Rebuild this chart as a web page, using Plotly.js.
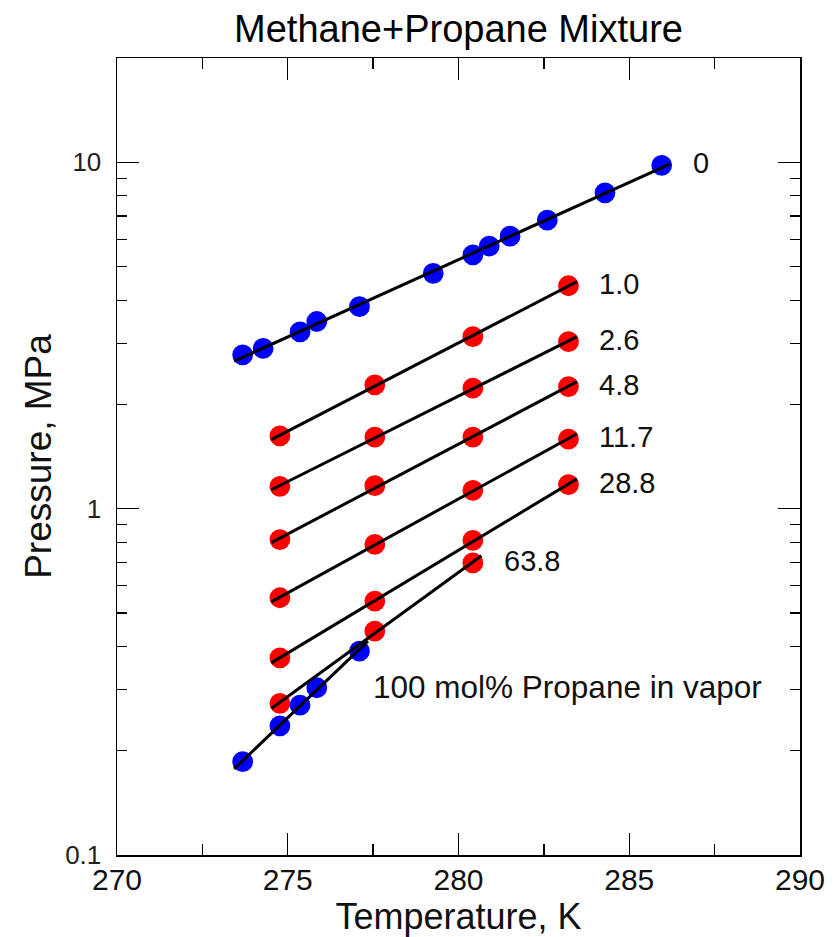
<!DOCTYPE html>
<html>
<head>
<meta charset="utf-8">
<script src="https://cdn.plot.ly/plotly-3.0.1.min.js"></script>
<style>html,body{margin:0;padding:0;background:#fff;}#chart{width:840px;height:937px;}</style>
</head>
<body>
<div id="chart"></div>
<script>
// ---- Data ----
// 0 mol% propane in vapor (pure methane hydrate), blue
const T_0 = [273.68, 274.28, 275.36, 275.85, 277.10, 279.26, 280.42, 280.90, 281.51, 282.60, 284.29, 285.95];
const P_0 = [2.78, 2.90, 3.24, 3.47, 3.83, 4.78, 5.40, 5.73, 6.12, 6.81, 8.16, 9.80];

// mixtures (red), common temperatures
const T_mix = [274.77, 277.55, 280.42, 283.22];
const P_1_0  = [1.623, 2.277, 3.137, 4.40];
const P_2_6  = [1.160, 1.609, 2.228, 3.034];
const P_4_8  = [0.814, 1.165, 1.609, 2.251];
const P_11_7 = [0.553, 0.788, 1.129, 1.588];
const P_28_8 = [0.371, 0.541, 0.810, 1.173];
const T_63_8 = [274.77, 277.55, 280.42];
const P_63_8 = [0.274, 0.443, 0.697];

// 100 mol% propane in vapor, blue
const T_100 = [273.68, 274.77, 275.36, 275.85, 277.10];
const P_100 = [0.186, 0.236, 0.271, 0.304, 0.388];

const seriesLabels = ['0', '1.0', '2.6', '4.8', '11.7', '28.8', '63.8'];
const xTickVals = [270, 275, 280, 285, 290];
const xTickText = ['270', '275', '280', '285', '290'];
const xMinorVals = [272.5, 277.5, 282.5, 287.5];
const yTickVals = [0.1, 1, 10];
const yTickText = ['0.1', '1', '10'];

// ---- Build traces ----
const BLUE = '#0000ff', RED = '#ff0000';
const series = [
  {T: T_0, P: P_0, color: BLUE, label: seriesLabels[0]},
  {T: T_mix, P: P_1_0, color: RED, label: seriesLabels[1]},
  {T: T_mix, P: P_2_6, color: RED, label: seriesLabels[2]},
  {T: T_mix, P: P_4_8, color: RED, label: seriesLabels[3]},
  {T: T_mix, P: P_11_7, color: RED, label: seriesLabels[4]},
  {T: T_mix, P: P_28_8, color: RED, label: seriesLabels[5]},
  {T: T_63_8, P: P_63_8, color: RED, label: seriesLabels[6]},
  {T: T_100, P: P_100, color: BLUE, label: null}
];

function fitLine(T, P, ext) {
  const n = T.length;
  const ly = P.map(v => Math.log10(v));
  const mx = T.reduce((a, b) => a + b, 0) / n;
  const my = ly.reduce((a, b) => a + b, 0) / n;
  let sxy = 0, sxx = 0;
  for (let i = 0; i < n; i++) { sxy += (T[i] - mx) * (ly[i] - my); sxx += (T[i] - mx) * (T[i] - mx); }
  const b = sxy / sxx, a = my - b * mx;
  const x0 = Math.min(...T) - ext, x1 = Math.max(...T) + ext;
  return {x: [x0, x1], y: [Math.pow(10, a + b * x0), Math.pow(10, a + b * x1)]};
}

const traces = [];
series.forEach(s => {
  traces.push({
    type: 'scatter', mode: 'markers', x: s.T, y: s.P, showlegend: false, hoverinfo: 'skip',
    marker: {color: s.color, size: 19, line: {color: s.color, width: 1.8}}
  });
});
series.forEach(s => {
  const f = fitLine(s.T, s.P, 0.25);
  traces.push({
    type: 'scatter', mode: 'lines', x: f.x, y: f.y, showlegend: false, hoverinfo: 'skip',
    line: {color: '#000', width: 3}
  });
});
// empty traces so the tick-overlay axes are drawn
traces.push({type: 'scatter', mode: 'markers', x: [], y: [], xaxis: 'x2', yaxis: 'y', showlegend: false, hoverinfo: 'skip'});
traces.push({type: 'scatter', mode: 'markers', x: [], y: [], xaxis: 'x3', yaxis: 'y', showlegend: false, hoverinfo: 'skip'});

const FONT = 'Liberation Sans, Arial, Helvetica, sans-serif';
const annotations = series.filter(s => s.label !== null).map(s => ({
  x: s.T[s.T.length - 1], y: Math.log10(s.P[s.P.length - 1]),
  xref: 'x', yref: 'y', text: s.label, showarrow: false,
  xanchor: 'left', yanchor: 'middle', xshift: 29, yshift: 2,
  font: {family: FONT, size: 29, color: '#111'}
}));
annotations.push({
  x: 277.45, y: Math.log10(0.305), xref: 'x', yref: 'y', text: '100 mol% Propane in vapor',
  showarrow: false, xanchor: 'left', yanchor: 'middle',
  font: {family: FONT, size: 31.5, color: '#111'}
});

const minorY = [];
[0.1, 1, 10].forEach(d => { for (let k = 2; k <= 9; k++) minorY.push(k * d); });

const layout = {
  width: 840, height: 937,
  paper_bgcolor: '#fff', plot_bgcolor: '#fff',
  margin: {l: 117, r: 40, t: 58, b: 82},
  showlegend: false,
  title: {text: 'Methane+Propane Mixture', font: {family: FONT, size: 38, color: '#000'},
          x: 0.5, xref: 'paper', xanchor: 'center', y: 1 - 29 / 937, yref: 'container', yanchor: 'middle'},
  xaxis: {
    range: [270, 290], tickvals: xTickVals, ticktext: xTickText, ticks: 'inside', ticklen: 22, tickwidth: 1.3, tickcolor: '#000',
    showline: true, linecolor: '#000', linewidth: 1.5, mirror: 'ticks',
    showgrid: false, zeroline: false,
    tickfont: {family: FONT, size: 30, color: '#111'}, ticklabelstandoff: -3,
    title: {text: 'Temperature, K', font: {family: FONT, size: 36, color: '#111'}, standoff: 10}
  },
  xaxis2: {
    overlaying: 'x', side: 'bottom', anchor: 'y', range: [270, 290],
    tickvals: xMinorVals, ticks: 'inside', ticklen: 11, tickwidth: 1.3, tickcolor: '#000',
    showticklabels: false, showline: false, mirror: 'ticks', showgrid: false, zeroline: false
  },
  xaxis3: {
    overlaying: 'x', side: 'bottom', anchor: 'y', range: [270, 290],
    tickvals: xTickVals, ticks: 'inside', ticklen: 22, tickwidth: 1.3, tickcolor: '#000',
    showticklabels: false, showline: false, mirror: 'ticks', showgrid: false, zeroline: false
  },
  yaxis: {
    type: 'log', range: [-1, Math.log10(20)], tickvals: yTickVals, ticktext: yTickText,
    ticks: 'inside', ticklen: 22, tickwidth: 1.3, tickcolor: '#000',
    minor: {ticks: 'inside', ticklen: 10, tickwidth: 1.2, tickcolor: '#000', tickvals: minorY, showgrid: false},
    showline: true, linecolor: '#000', linewidth: 1.5, mirror: 'ticks',
    showgrid: false, zeroline: false,
    tickfont: {family: FONT, size: 26, color: '#222'}, ticklabelstandoff: 9,
    title: {text: 'Pressure, MPa', font: {family: FONT, size: 37, color: '#111'}, standoff: 2}
  },
  annotations: annotations
};

Plotly.newPlot('chart', traces, layout, {staticPlot: true, displayModeBar: false});
</script>
</body>
</html>
